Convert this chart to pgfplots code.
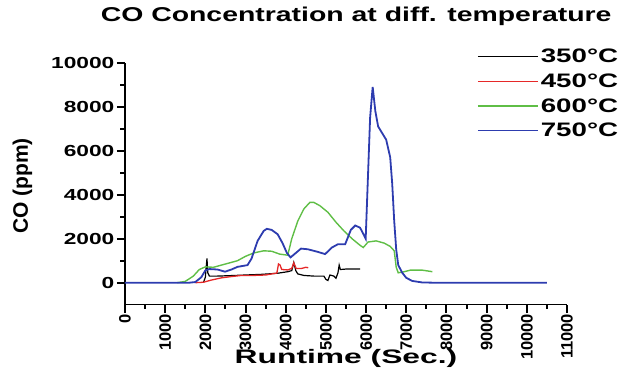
\documentclass[border=0pt]{standalone}
\usepackage{pgfplots}
\pgfplotsset{compat=1.18}
\usepackage{fontspec}
\setmainfont{Liberation Sans}
\definecolor{cred}{RGB}{230,40,40}
\definecolor{cgreen}{RGB}{95,190,70}
\definecolor{cblue}{RGB}{45,60,175}
\newcommand{\wide}[1]{\scalebox{1.42}[1]{#1}}
\begin{document}
\begin{tikzpicture}
\useasboundingbox (-125bp,-72.3bp) rectangle (501bp,304.7bp);
\begin{axis}[
  at={(0,0)}, anchor=south west,
  scale only axis, width=442bp, height=242bp,
  xmin=0, xmax=11000, ymin=-1000, ymax=10000,
  axis x line=bottom, axis y line=left,
  axis line style={-, line width=1.3bp, black},
  xtick align=outside, ytick align=outside,
  xtick style={draw=black, line width=2bp},
  ytick style={draw=black, line width=2bp},
  major tick length=8bp, minor tick length=4.5bp,
  scaled ticks=false,
  xtick={0,1000,...,11000}, ytick={0,2000,...,10000},
  minor xtick={500,1500,...,10500}, minor ytick={1000,3000,...,9000},
  /pgf/number format/assume math mode=true,
  /pgf/number format/set thousands separator={},
  xticklabel style={rotate=90, anchor=east, font=\bfseries\fontsize{16.5bp}{18bp}\selectfont, inner sep=1bp},
  yticklabel={\wide{\pgfmathprintnumber{\tick}}},
  yticklabel style={font=\bfseries\fontsize{16bp}{18bp}\selectfont, inner sep=2.5bp},
  title={\wide{CO Concentration at diff. temperature}},
  title style={at={(axis description cs:0.523,1)}, anchor=base, yshift=35.7bp, font=\bfseries\fontsize{20bp}{22bp}\selectfont, inner sep=0pt},
  xlabel={\scalebox{1.63}[1]{Runtime (Sec.)}},
  xlabel style={at={(axis description cs:0.5,-0.245)}, anchor=base, font=\bfseries\fontsize{19.5bp}{22bp}\selectfont, inner sep=0pt},
  ylabel={CO (ppm)},
  ylabel style={at={(axis description cs:-0.232,0.49)}, anchor=center, font=\bfseries\fontsize{21bp}{23bp}\selectfont, inner sep=0pt},
  legend image code/.code={\draw[#1] (0bp,0bp) -- (60bp,0bp);},
  legend style={draw=none, fill=none, at={(axis description cs:0.796,1.065)}, anchor=north west,
    font=\bfseries\fontsize{19.5bp}{21bp}\selectfont, row sep=5.5bp, inner sep=0pt,
    nodes={inner sep=2bp}},
  legend cell align=left,
  clip=false,
]
\addplot[black, line width=1.2bp] coordinates {
(1950,0)(2000,250)(2020,700)(2040,1100)(2060,450)(2100,300)(2300,300)(2600,320)(3000,350)
(3400,380)(3800,430)(4050,500)(4150,550)(4200,920)(4250,550)(4300,400)(4450,330)(4700,300)
(4950,300)(5000,150)(5050,100)(5100,350)(5200,300)(5250,200)(5300,450)(5330,800)(5360,600)
(5500,620)(5850,620)};
\addlegendentry{\wide{350°C}}
\addplot[color=cred, line width=1.3bp] coordinates {
(1750,0)(1950,20)(2150,120)(2400,220)(2650,280)(2900,330)(3200,330)(3500,350)(3780,440)
(3820,850)(3860,800)(3900,600)(4050,580)(4150,650)(4200,900)(4260,650)(4400,650)(4500,700)(4560,680)};
\addlegendentry{\wide{450°C}}
\addplot[color=cgreen, line width=1.4bp] coordinates {
(1300,0)(1500,60)(1700,300)(1850,600)(2000,720)(2200,700)(2400,800)(2600,900)(2800,1000)
(3000,1200)(3200,1350)(3450,1450)(3650,1430)(3850,1300)(4050,1250)(4150,2000)(4300,2800)
(4450,3350)(4600,3650)(4700,3650)(4850,3500)(5050,3200)(5250,2750)(5450,2350)(5650,2000)
(5850,1700)(5930,1600)(6050,1850)(6250,1900)(6450,1800)(6600,1650)(6700,1450)(6750,700)
(6800,450)(6950,500)(7100,570)(7400,570)(7650,500)};
\addlegendentry{\wide{600°C}}
\addplot[color=cblue, line width=1.8bp] coordinates {
(0,0)(1600,0)(1750,30)(1900,250)(2000,560)(2100,620)(2300,600)(2490,500)(2650,600)(2800,720)
(3050,800)(3150,1100)(3300,1900)(3450,2350)(3530,2450)(3650,2400)(3800,2200)(3920,1800)
(4030,1350)(4120,1150)(4250,1350)(4380,1550)(4550,1520)(4800,1400)(4980,1300)(5150,1600)
(5300,1750)(5480,1750)(5620,2400)(5730,2600)(5850,2500)(5950,2150)(5990,2000)(6040,4500)
(6100,7500)(6164,8900)(6230,7800)(6300,7100)(6400,6800)(6500,6500)(6600,5700)(6650,4500)
(6700,2800)(6750,1500)(6800,800)(6900,450)(7000,220)(7150,80)(7400,10)(7700,0)(10500,0)};
\addlegendentry{\wide{750°C}}
\end{axis}
\end{tikzpicture}
\end{document}
